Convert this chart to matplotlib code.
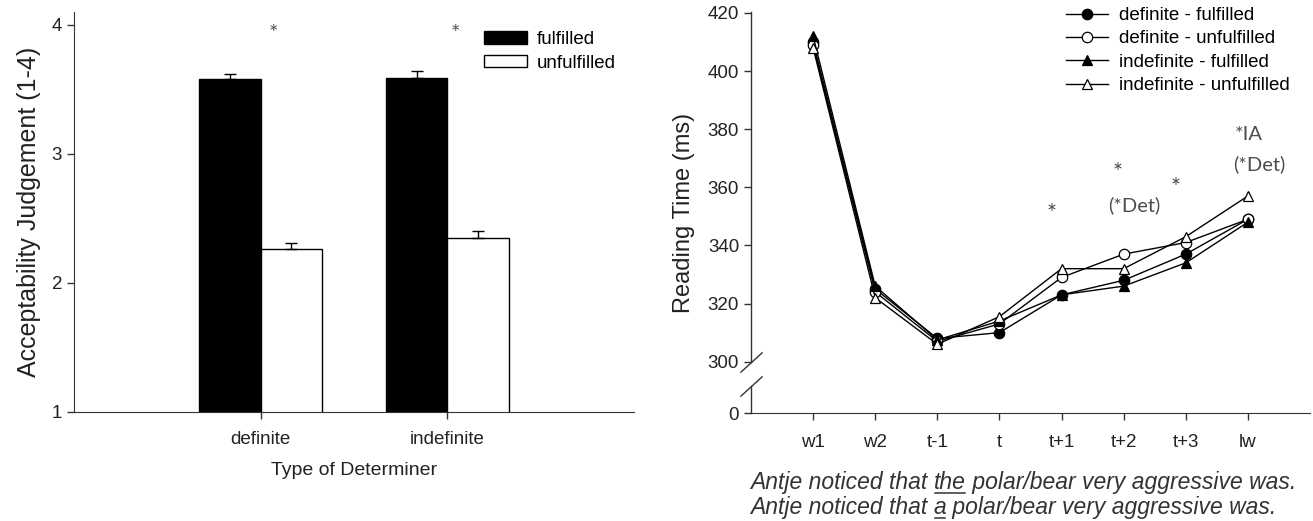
import numpy as np
import matplotlib
matplotlib.use("Agg")
import matplotlib.pyplot as plt
from matplotlib.lines import Line2D
from matplotlib.transforms import blended_transform_factory

plt.rcParams["font.family"] = ["Liberation Sans", "DejaVu Sans"]

# left panel: acceptability judgements
determiners = ["definite", "indefinite"]
judge_fulfilled = [3.58, 3.59]
judge_fulfilled_err = [0.04, 0.05]
judge_unfulfilled = [2.26, 2.345]
judge_unfulfilled_err = [0.05, 0.055]
judge_star_x = [0.07, 1.045]

# right panel: reading times (ms) per region
regions = ["w1", "w2", "t-1", "t", "t+1", "t+2", "t+3", "lw"]
def_ful = [410, 325, 308, 310, 323, 328, 337, 349]
def_unf = [409, 324, 307, 313, 329, 337, 341, 349]
indef_ful = [412, 326, 307.5, 314, 323, 326, 334, 348]
indef_unf = [408, 322, 306, 315.5, 332, 332, 343, 357]
series_names = ["definite - fulfilled", "definite - unfulfilled",
                "indefinite - fulfilled", "indefinite - unfulfilled"]

# significance marks on the reading time plot
sig_labels = ["*", "*", "(*Det)", "*", "*IA", "(*Det)"]
sig_x = [3.84, 4.90, 5.17, 5.84, 7.01, 7.19]
sig_y = [351, 365, 354, 360, 378, 368]

AX_COLOR = "#333333"

fig = plt.figure(figsize=(13.13, 5.21), dpi=100)
W, H = 1313, 521

# ---------------- left: bar chart ----------------
ax1 = fig.add_axes([74 / W, 1 - 412 / H, (634 - 74) / W, (412 - 11.7) / H])
x = np.arange(len(determiners))
w = 0.33
ekw = dict(ecolor="black", elinewidth=1, capsize=4, capthick=1)
ax1.bar(x - w / 2, judge_fulfilled, w, color="black", edgecolor="black",
        linewidth=1, yerr=[np.zeros(2), judge_fulfilled_err], error_kw=ekw,
        label="fulfilled")
ax1.bar(x + w / 2, judge_unfulfilled, w, color="white", edgecolor="black",
        linewidth=1, yerr=[np.zeros(2), judge_unfulfilled_err], error_kw=ekw,
        label="unfulfilled")
ax1.set_xlim(-1, 2)
ax1.set_ylim(1, 4.1)
ax1.set_yticks([1, 2, 3, 4])
ax1.set_xticks(x, determiners)
ax1.tick_params(axis="both", direction="out", length=5, width=1, color=AX_COLOR,
                labelsize=13.5, labelcolor="#222222")
ax1.tick_params(axis="x", pad=9)
for s in ["top", "right"]:
    ax1.spines[s].set_visible(False)
for s in ["left", "bottom"]:
    ax1.spines[s].set_color(AX_COLOR)
ax1.set_ylabel("Acceptability Judgement (1-4)", fontsize=18, labelpad=8, color="#222222")
ax1.set_xlabel("Type of Determiner", fontsize=14, labelpad=10, color="#222222")
for sx in judge_star_x:
    ax1.text(sx, 3.93, "*", ha="center", va="center", fontsize=16,
             family=["Lato", "DejaVu Sans"], color="#555555")
ax1.legend(loc="upper left", bbox_to_anchor=(484 / W, 1 - 31 / H),
           bbox_transform=fig.transFigure, frameon=False, fontsize=13.5,
           handlelength=2.3, handleheight=0.65, handletextpad=0.5,
           labelspacing=0.36, borderpad=0, borderaxespad=0)

# ---------------- right: reading times with broken axis ----------------
BREAK_SPAN = 17.75


def fwd(v):
    v = np.asarray(v, dtype=float)
    return np.where(v >= 300, v, 300 - BREAK_SPAN * (300 - v) / 300)


def inv(u):
    u = np.asarray(u, dtype=float)
    return np.where(u >= 300, u, 300 - (300 - u) * 300 / BREAK_SPAN)


ax2 = fig.add_axes([751 / W, 1 - 413.3 / H, (1310 - 751) / W, (413.3 - 12) / H])
ax2.set_yscale("function", functions=(fwd, inv))
xr = np.arange(len(regions))
styles = [(def_ful, "o", "black"), (def_unf, "o", "white"),
          (indef_ful, "^", "black"), (indef_unf, "^", "white")]
for (vals, mk, fc), name in zip(styles, series_names):
    ax2.plot(xr, vals, color="black", lw=1, marker=mk, mfc=fc, mec="black",
             ms=7.5, mew=0.9, label=name)
ax2.set_xlim(-1, 8)
ax2.set_ylim(0, 420.3)
ax2.set_yticks([0, 300, 320, 340, 360, 380, 400, 420])
ax2.set_xticks(xr, regions)
ax2.tick_params(axis="both", direction="out", length=5, width=1, color=AX_COLOR,
                labelsize=13.5, labelcolor="#222222")
ax2.tick_params(axis="x", pad=10)
for s in ["top", "right", "left"]:
    ax2.spines[s].set_visible(False)
ax2.spines["bottom"].set_color(AX_COLOR)

# hand-drawn left spine with the break marks
tr = blended_transform_factory(ax2.transAxes, ax2.transData)
ax2.plot([0, 0], [0, 158], color=AX_COLOR, lw=1, transform=tr, clip_on=False)
ax2.plot([0, 0], [300, 420.3], color=AX_COLOR, lw=1, transform=tr, clip_on=False)
ax2.plot([0, 0], [300, 158], ls="none", marker=[(-1.1, -1), (1.1, 1)], ms=16,
         mew=1, color=AX_COLOR, transform=tr, clip_on=False)

ax2.set_ylabel("Reading Time (ms)", fontsize=17, labelpad=9, color="#222222")
for lab, sx, sy in zip(sig_labels, sig_x, sig_y):
    ax2.text(sx, sy, lab, ha="center", va="center",
             fontsize=17 if lab == "*" else 14.5,
             family=["Lato", "DejaVu Sans"], color="#4d4d4d")
ax2.legend(loc="upper left", bbox_to_anchor=(1066 / W, 1 - 7 / H),
           bbox_transform=fig.transFigure, frameon=False, fontsize=13.5,
           handlelength=2.25, handletextpad=0.6, labelspacing=0.33,
           borderpad=0, borderaxespad=0)

# example sentences under the right panel, with the determiner underlined
sentences = [("Antje noticed that ", "the", " polar/bear very aggressive was."),
             ("Antje noticed that ", "a", " polar/bear very aggressive was.")]
line_bottoms = [494, 519]
underlined = []
for (pre, det, post), yb in zip(sentences, line_bottoms):
    t1 = fig.text(750 / W, 1 - yb / H, pre, fontsize=16.5, style="italic",
                  va="bottom", ha="left", color="#333333")
    t2 = ax2.annotate(det, xy=(1, 0), xycoords=t1, fontsize=16.5, style="italic",
                      va="bottom", ha="left", color="#333333", annotation_clip=False)
    ax2.annotate(post, xy=(1, 0), xycoords=t2, fontsize=16.5, style="italic",
                 va="bottom", ha="left", color="#333333", annotation_clip=False)
    underlined.append((t2, yb))

fig.canvas.draw()
for t2, yb in underlined:
    bb = t2.get_window_extent()
    y_line = H - (yb - 1.5)
    fig.add_artist(Line2D([bb.x0 + 1, bb.x1 - 1], [y_line, y_line], lw=1.1,
                          color="#333333", transform=None))

fig.savefig("out.png", dpi=100)
